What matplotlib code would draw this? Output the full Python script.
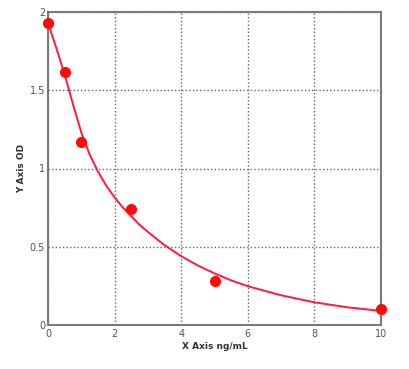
import matplotlib
matplotlib.use("Agg")
import matplotlib.pyplot as plt

# standard points
conc = [0, 0.5, 1, 2.5, 5, 10]
od = [1.93, 1.615, 1.17, 0.74, 0.28, 0.10]

# fitted curve
curve_x = [0, 0.25, 0.5, 0.75, 1, 1.25, 1.5, 1.75, 2, 2.25, 2.5, 2.75, 3, 3.5, 4, 4.5, 5, 5.5,
           6, 7, 8, 9, 10]
curve_y = [1.93, 1.77, 1.60, 1.41, 1.23, 1.09, 0.98, 0.89, 0.815, 0.75, 0.695, 0.64, 0.595,
           0.51, 0.44, 0.38, 0.33, 0.285, 0.248, 0.19, 0.145, 0.113, 0.09]

x_ticks = [0, 2, 4, 6, 8, 10]
x_tick_labels = ["0", "2", "4", "6", "8", "10"]
y_ticks = [0, 0.5, 1, 1.5, 2]
y_tick_labels = ["0", "0.5", "1", "1.5", "2"]

fig = plt.figure(figsize=(4.09, 3.69), dpi=100)
ax = fig.add_axes([48 / 409, 1 - 325 / 369, (381 - 48) / 409, (325 - 12) / 369])

ax.plot(curve_x, curve_y, color="#ff1a3a", lw=1.4, zorder=3, clip_on=False)
ax.plot(conc, od, "o", color="#ff0a0a", ms=7, zorder=4, clip_on=False, mec="#ff0a0a")

ax.set_xlim(0, 10)
ax.set_ylim(0, 2)
ax.set_xticks(x_ticks)
ax.set_xticklabels(x_tick_labels)
ax.set_yticks(y_ticks)
ax.set_yticklabels(y_tick_labels)
ax.tick_params(length=0, labelsize=7, labelcolor="#555555")
ax.tick_params(axis="x", pad=3)
ax.tick_params(axis="y", pad=2)

ax.grid(True, color="#666666", linestyle=(0, (1, 1.6)), lw=1.0)
ax.set_axisbelow(True)
for s in ax.spines.values():
    s.set_color("#7a7a7a")
    s.set_linewidth(1.5)

ax.set_xlabel("X Axis ng/mL", fontsize=6.5, fontweight="bold", color="#333333", labelpad=2)
ax.set_ylabel("Y Axis OD", fontsize=6.5, fontweight="bold", color="#333333", labelpad=3)

fig.savefig("out.png", dpi=100)
